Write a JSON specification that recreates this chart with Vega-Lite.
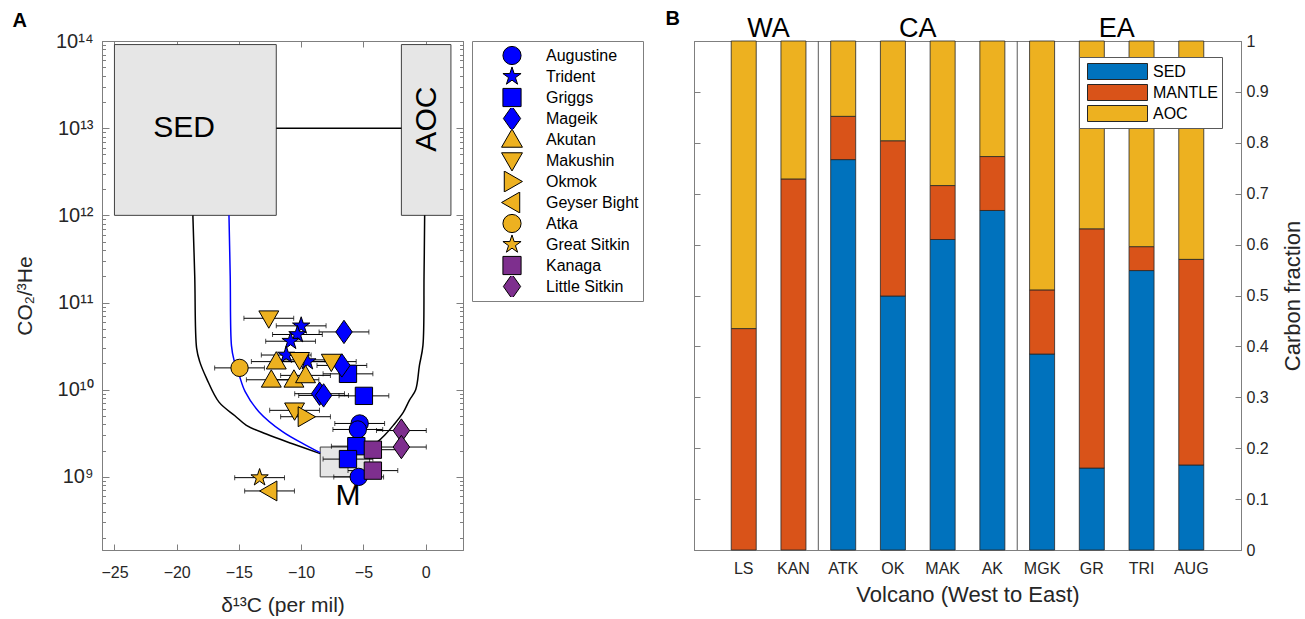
{
  "$schema": "https://vega.github.io/schema/vega-lite/v6.json",
  "background": "white",
  "autosize": {"type": "pad"},
  "padding": {"left": 12, "top": 8, "right": 0, "bottom": 0},
  "bounds": "flush",
  "spacing": 231,
  "resolve": {"scale": {"color": "independent", "shape": "independent"}, "legend": {"color": "independent", "shape": "independent"}},
  "hconcat": [
    {
      "width": 361,
      "height": 509,
      "title": {"text": "A", "anchor": "start", "frame": "bounds", "fontSize": 20, "fontWeight": "bold", "color": "#000000", "dx": -2, "dy": 6, "offset": 6},
      "layer": [
        {
          "data": {"values": [
            {"box": "SED", "x1": -25, "x2": -12, "y1": 1e12, "y2": 9.1e13},
            {"box": "AOC", "x1": -1.95, "x2": 2.03, "y1": 1e12, "y2": 9.1e13},
            {"box": "M", "x1": -8.47, "x2": -4.5, "y1": 1e9, "y2": 2.2e9}
          ]},
          "mark": {"type": "rect", "fill": "#e6e6e6", "stroke": "#404040", "strokeWidth": 1},
          "encoding": {
            "x": {"field": "x1", "type": "quantitative", "scale": {"domain": [-26, 3], "nice": false, "zero": false}, "axis": null},
            "x2": {"field": "x2"},
            "y": {"field": "y1", "type": "quantitative", "scale": {"type": "log", "domain": [1.45e8, 1e14], "nice": false}, "axis": {"orient": "right", "values": [2e8,3e8,4e8,5e8,6e8,7e8,8e8,9e8,2e9,3e9,4e9,5e9,6e9,7e9,8e9,9e9,2e10,3e10,4e10,5e10,6e10,7e10,8e10,9e10,2e11,3e11,4e11,5e11,6e11,7e11,8e11,9e11,2e12,3e12,4e12,5e12,6e12,7e12,8e12,9e12,2e13,3e13,4e13,5e13,6e13,7e13,8e13,9e13], "tickSize": -3.5, "labels": false, "domain": false, "title": null}},
            "y2": {"field": "y2"}
          }
        },
        {
          "data": {"values": [
            {"curve": "left", "d13C": -18.7, "co2he": 1e12},
            {"curve": "left", "d13C": -18.55, "co2he": 2e11},
            {"curve": "left", "d13C": -18.4, "co2he": 3e10},
            {"curve": "left", "d13C": -18.15, "co2he": 2.1e10},
            {"curve": "left", "d13C": -17.6, "co2he": 1.35e10},
            {"curve": "left", "d13C": -16.6, "co2he": 7.2e9},
            {"curve": "left", "d13C": -15.3, "co2he": 5e9},
            {"curve": "left", "d13C": -14.4, "co2he": 3.9e9},
            {"curve": "left", "d13C": -12.8, "co2he": 3.1e9},
            {"curve": "left", "d13C": -10.7, "co2he": 2.4e9},
            {"curve": "left", "d13C": -8.47, "co2he": 1.85e9},
            {"curve": "right", "d13C": -0.08, "co2he": 1e12},
            {"curve": "right", "d13C": -0.13, "co2he": 2e11},
            {"curve": "right", "d13C": -0.22, "co2he": 3.2e10},
            {"curve": "right", "d13C": -0.5, "co2he": 1.9e10},
            {"curve": "right", "d13C": -0.8, "co2he": 1.0e10},
            {"curve": "right", "d13C": -1.3, "co2he": 7.6e9},
            {"curve": "right", "d13C": -1.8, "co2he": 5.5e9},
            {"curve": "right", "d13C": -2.6, "co2he": 3.9e9},
            {"curve": "right", "d13C": -3.3, "co2he": 3.0e9},
            {"curve": "right", "d13C": -3.9, "co2he": 2.5e9},
            {"curve": "right", "d13C": -4.5, "co2he": 2.2e9},
            {"curve": "link", "d13C": -12, "co2he": 1e13},
            {"curve": "link", "d13C": -1.95, "co2he": 1e13}
          ]},
          "mark": {"type": "line", "color": "#000000", "strokeWidth": 1.5, "interpolate": "catmull-rom"},
          "encoding": {
            "x": {"field": "d13C", "type": "quantitative", "scale": {"domain": [-26, 3], "nice": false, "zero": false}, "axis": {"orient": "top", "values": [-25, -20, -15, -10, -5, 0], "tickSize": -6, "labels": false, "title": null}},
            "y": {"field": "co2he", "type": "quantitative", "scale": {"type": "log", "domain": [1.45e8, 1e14], "nice": false}, "axis": {"orient": "right", "values": [1e9, 1e10, 1e11, 1e12, 1e13, 1e14], "tickSize": -7, "labels": false, "title": null}},
            "detail": {"field": "curve"}
          }
        },
        {
          "data": {"values": [
            {"d13C": -15.8, "co2he": 1e12},
            {"d13C": -15.7, "co2he": 2e11},
            {"d13C": -15.6, "co2he": 3.2e10},
            {"d13C": -15.4, "co2he": 2.2e10},
            {"d13C": -15.0, "co2he": 1.5e10},
            {"d13C": -14.5, "co2he": 9.5e9},
            {"d13C": -13.4, "co2he": 5.6e9},
            {"d13C": -11.5, "co2he": 3.3e9},
            {"d13C": -9.6, "co2he": 2.3e9},
            {"d13C": -8.47, "co2he": 1.9e9}
          ]},
          "mark": {"type": "line", "color": "#0000ff", "strokeWidth": 1.5, "interpolate": "catmull-rom"},
          "encoding": {
            "x": {"field": "d13C", "type": "quantitative", "scale": {"domain": [-26, 3], "nice": false, "zero": false}, "axis": null},
            "y": {"field": "co2he", "type": "quantitative", "scale": {"type": "log", "domain": [1.45e8, 1e14], "nice": false}, "axis": {"orient": "left", "values": [2e8,3e8,4e8,5e8,6e8,7e8,8e8,9e8,2e9,3e9,4e9,5e9,6e9,7e9,8e9,9e9,2e10,3e10,4e10,5e10,6e10,7e10,8e10,9e10,2e11,3e11,4e11,5e11,6e11,7e11,8e11,9e11,2e12,3e12,4e12,5e12,6e12,7e12,8e12,9e12,2e13,3e13,4e13,5e13,6e13,7e13,8e13,9e13], "tickSize": -3.5, "labels": false, "domain": false, "title": null}}
          }
        },
        {
          "data": {"name": "pts"},
          "mark": {"type": "errorbar", "color": "#000000", "ticks": {"size": 5, "color": "#000000"}, "rule": {"strokeWidth": 1}},
          "encoding": {
            "x": {"field": "d13C", "type": "quantitative", "scale": {"domain": [-26, 3], "nice": false, "zero": false}, "axis": null},
            "xError": {"field": "xerr"},
            "y": {"field": "co2he", "type": "quantitative", "scale": {"type": "log", "domain": [1.45e8, 1e14], "nice": false}, "axis": null}
          }
        },
        {
          "data": {"name": "pts"},
          "mark": {"type": "point", "filled": true, "size": 300, "stroke": "#000000", "strokeWidth": 1, "opacity": 1},
          "encoding": {
            "x": {"field": "d13C", "type": "quantitative", "scale": {"domain": [-26, 3], "nice": false, "zero": false}, "axis": {"orient": "bottom", "values": [-25, -20, -15, -10, -5, 0], "tickSize": -6, "labelPadding": 20, "title": "δ¹³C (per mil)", "titlePadding": 14}},
            "y": {"field": "co2he", "type": "quantitative", "scale": {"type": "log", "domain": [1.45e8, 1e14], "nice": false}, "axis": {"orient": "left", "values": [1e9, 1e10, 1e11, 1e12, 1e13, 1e14], "tickSize": -7, "labelPadding": 16, "labelFontSize": 20, "labelExpr": "datum.value == 1e9 ? '10⁹' : datum.value == 1e10 ? '10¹⁰' : datum.value == 1e11 ? '10¹¹' : datum.value == 1e12 ? '10¹²' : datum.value == 1e13 ? '10¹³' : datum.value == 1e14 ? '10¹⁴' : ''", "title": "CO₂/³He", "titlePadding": 20}},
            "color": {"field": "volcano", "type": "nominal",
              "scale": {"domain": ["Augustine","Trident","Griggs","Mageik","Akutan","Makushin","Okmok","Geyser Bight","Atka","Great Sitkin","Kanaga","Little Sitkin"],
                        "range": ["#0000ff","#0000ff","#0000ff","#0000ff","#edb120","#edb120","#edb120","#edb120","#edb120","#edb120","#7e2f8e","#7e2f8e"]},
              "legend": {"orient": "none", "legendX": 370, "legendY": 0, "title": null, "padding": 4, "symbolOffset": 26, "labelOffset": 24, "symbolSize": 330, "rowPadding": 0, "clipHeight": 21, "strokeColor": "#7f7f7f", "fillColor": "#ffffff", "symbolStrokeColor": "#000000", "symbolStrokeWidth": 1, "symbolOpacity": 1, "labelFontSize": 16, "labelColor": "#000000",
                         "encode": {"symbols": {"update": {"stroke": {"value": "#000000"}, "strokeWidth": {"value": 1}}}}}},
            "shape": {"field": "volcano", "type": "nominal",
              "scale": {"domain": ["Augustine","Trident","Griggs","Mageik","Akutan","Makushin","Okmok","Geyser Bight","Atka","Great Sitkin","Kanaga","Little Sitkin"],
                        "range": ["circle",
                                  "M0,-1.05L0.236,-0.324L0.999,-0.324L0.381,0.124L0.617,0.849L0,0.401L-0.617,0.849L-0.381,0.124L-0.999,-0.324L-0.236,-0.324Z",
                                  "square",
                                  "M0,-1.35L0.95,0L0,1.35L-0.95,0Z",
                                  "M0,-1.15L1.15,0.85L-1.15,0.85Z",
                                  "M0,1.15L1.15,-0.85L-1.15,-0.85Z",
                                  "M1.15,0L-0.85,-1.15L-0.85,1.15Z",
                                  "M-1.15,0L0.85,-1.15L0.85,1.15Z",
                                  "circle",
                                  "M0,-1.05L0.236,-0.324L0.999,-0.324L0.381,0.124L0.617,0.849L0,0.401L-0.617,0.849L-0.381,0.124L-0.999,-0.324L-0.236,-0.324Z",
                                  "square",
                                  "M0,-1.35L0.95,0L0,1.35L-0.95,0Z"]},
              "legend": {"orient": "none", "legendX": 370, "legendY": 0, "title": null, "padding": 4, "symbolOffset": 26, "labelOffset": 24, "symbolSize": 330, "rowPadding": 0, "clipHeight": 21, "strokeColor": "#7f7f7f", "fillColor": "#ffffff", "symbolStrokeColor": "#000000", "symbolStrokeWidth": 1, "symbolOpacity": 1, "labelFontSize": 16, "labelColor": "#000000",
                         "encode": {"symbols": {"update": {"stroke": {"value": "#000000"}, "strokeWidth": {"value": 1}}}}}}
          }
        },
        {
          "data": {"values": [
            {"label": "SED", "d13C": -19.4, "co2he": 1e13},
            {"label": "M", "d13C": -6.24, "co2he": 6.1e8}
          ]},
          "mark": {"type": "text", "fontSize": 30, "color": "#000000", "baseline": "middle", "align": "center"},
          "encoding": {
            "x": {"field": "d13C", "type": "quantitative", "scale": {"domain": [-26, 3], "nice": false, "zero": false}, "axis": null},
            "y": {"field": "co2he", "type": "quantitative", "scale": {"type": "log", "domain": [1.45e8, 1e14], "nice": false}, "axis": null},
            "text": {"field": "label"}
          }
        },
        {
          "data": {"values": [
            {"label": "AOC", "d13C": 0.1, "co2he": 1.27e13}
          ]},
          "mark": {"type": "text", "fontSize": 30, "color": "#000000", "baseline": "middle", "align": "center", "angle": 270},
          "encoding": {
            "x": {"field": "d13C", "type": "quantitative", "scale": {"domain": [-26, 3], "nice": false, "zero": false}, "axis": null},
            "y": {"field": "co2he", "type": "quantitative", "scale": {"type": "log", "domain": [1.45e8, 1e14], "nice": false}, "axis": null},
            "text": {"field": "label"}
          }
        }
      ],
      "resolve": {"axis": {"x": "independent", "y": "independent"}}
    },
    {
      "width": 547,
      "height": 509,
      "title": {"text": "B", "anchor": "start", "frame": "bounds", "fontSize": 20, "fontWeight": "bold", "color": "#000000", "dx": -28, "dy": 20, "offset": 6},
      "layer": [
        {
          "data": {"values": [
            {"volcano": "LS", "source": "MANTLE", "fraction": 0.435},
            {"volcano": "LS", "source": "AOC", "fraction": 0.565},
            {"volcano": "KAN", "source": "MANTLE", "fraction": 0.729},
            {"volcano": "KAN", "source": "AOC", "fraction": 0.271},
            {"volcano": "ATK", "source": "SED", "fraction": 0.767},
            {"volcano": "ATK", "source": "MANTLE", "fraction": 0.085},
            {"volcano": "ATK", "source": "AOC", "fraction": 0.148},
            {"volcano": "OK", "source": "SED", "fraction": 0.499},
            {"volcano": "OK", "source": "MANTLE", "fraction": 0.305},
            {"volcano": "OK", "source": "AOC", "fraction": 0.196},
            {"volcano": "MAK", "source": "SED", "fraction": 0.610},
            {"volcano": "MAK", "source": "MANTLE", "fraction": 0.106},
            {"volcano": "MAK", "source": "AOC", "fraction": 0.284},
            {"volcano": "AK", "source": "SED", "fraction": 0.667},
            {"volcano": "AK", "source": "MANTLE", "fraction": 0.106},
            {"volcano": "AK", "source": "AOC", "fraction": 0.227},
            {"volcano": "MGK", "source": "SED", "fraction": 0.385},
            {"volcano": "MGK", "source": "MANTLE", "fraction": 0.126},
            {"volcano": "MGK", "source": "AOC", "fraction": 0.489},
            {"volcano": "GR", "source": "SED", "fraction": 0.161},
            {"volcano": "GR", "source": "MANTLE", "fraction": 0.470},
            {"volcano": "GR", "source": "AOC", "fraction": 0.369},
            {"volcano": "TRI", "source": "SED", "fraction": 0.549},
            {"volcano": "TRI", "source": "MANTLE", "fraction": 0.047},
            {"volcano": "TRI", "source": "AOC", "fraction": 0.404},
            {"volcano": "AUG", "source": "SED", "fraction": 0.167},
            {"volcano": "AUG", "source": "MANTLE", "fraction": 0.404},
            {"volcano": "AUG", "source": "AOC", "fraction": 0.429}
          ]},
          "mark": {"type": "bar", "stroke": "#262626", "strokeWidth": 0.8},
          "encoding": {
            "x": {"field": "volcano", "type": "nominal", "scale": {"domain": ["LS","KAN","ATK","OK","MAK","AK","MGK","GR","TRI","AUG"], "paddingInner": 0.497, "paddingOuter": 0.7485},
                  "axis": {"orient": "bottom", "tickSize": -5, "labelPadding": 15, "labelAngle": 0, "title": "Volcano (West to East)", "titleFontSize": 22, "titlePadding": 8}},
            "y": {"field": "fraction", "type": "quantitative", "stack": "zero", "scale": {"domain": [0, 1], "nice": false},
                  "axis": {"orient": "right", "values": [0, 0.1, 0.2, 0.3, 0.4, 0.5, 0.6, 0.7, 0.8, 0.9, 1], "format": "~g", "tickSize": -6, "labelPadding": 11, "title": "Carbon fraction", "titleFontSize": 22, "titleAngle": 270, "titleBaseline": "top", "titlePadding": 14}},
            "color": {"field": "source", "type": "nominal",
                      "scale": {"domain": ["SED", "MANTLE", "AOC"], "range": ["#0072bd", "#d95319", "#edb120"]},
                      "legend": {"orient": "none", "legendX": 385, "legendY": 16, "title": null, "padding": 4, "symbolType": "M-3.75,-1H3.75V1H-3.75Z", "symbolSize": 256, "symbolOffset": 26, "labelOffset": 27, "rowPadding": 0, "clipHeight": 21, "strokeColor": "#595959", "fillColor": "#ffffff", "symbolStrokeColor": "#262626", "symbolStrokeWidth": 1, "symbolOpacity": 1, "labelFontSize": 16, "labelColor": "#000000"}},
            "order": {"field": "source", "sort": "descending"}
          }
        },
        {
          "data": {"values": [{"after": "KAN"}, {"after": "AK"}]},
          "mark": {"type": "rule", "color": "#595959", "strokeWidth": 1, "xOffset": 12.35},
          "encoding": {
            "x": {"field": "after", "type": "nominal", "bandPosition": 1, "scale": {"domain": ["LS","KAN","ATK","OK","MAK","AK","MGK","GR","TRI","AUG"], "paddingInner": 0.497, "paddingOuter": 0.7485}, "axis": null}
          }
        },
        {
          "data": {"values": [
            {"group": "WA", "after": "LS"},
            {"group": "CA", "after": "OK"},
            {"group": "EA", "after": "GR"}
          ]},
          "mark": {"type": "text", "fontSize": 27, "color": "#000000", "baseline": "alphabetic", "align": "center", "dy": -4, "xOffset": 12.35},
          "encoding": {
            "x": {"field": "after", "type": "nominal", "bandPosition": 1, "scale": {"domain": ["LS","KAN","ATK","OK","MAK","AK","MGK","GR","TRI","AUG"], "paddingInner": 0.497, "paddingOuter": 0.7485},
                  "axis": {"orient": "top", "tickSize": -5, "labels": false, "title": null}},
            "y": {"datum": 1, "type": "quantitative", "scale": {"domain": [0, 1], "nice": false},
                  "axis": {"orient": "left", "values": [0, 0.1, 0.2, 0.3, 0.4, 0.5, 0.6, 0.7, 0.8, 0.9, 1], "tickSize": -6, "labels": false, "title": null}},
            "text": {"field": "group"}
          }
        }
      ],
      "resolve": {"axis": {"x": "independent", "y": "independent"}}
    }
  ],
  "datasets": {
    "pts": [
      {"volcano": "Augustine", "d13C": -5.3, "co2he": 4.1e9, "xerr": 2},
      {"volcano": "Augustine", "d13C": -5.45, "co2he": 3.5e9, "xerr": 2},
      {"volcano": "Augustine", "d13C": -5.38, "co2he": 1.0e9, "xerr": 2},
      {"volcano": "Trident", "d13C": -10.0, "co2he": 5.4e10, "xerr": 2},
      {"volcano": "Trident", "d13C": -10.3, "co2he": 4.3e10, "xerr": 2},
      {"volcano": "Trident", "d13C": -10.85, "co2he": 3.6e10, "xerr": 2},
      {"volcano": "Trident", "d13C": -11.2, "co2he": 2.5e10, "xerr": 2},
      {"volcano": "Trident", "d13C": -9.5, "co2he": 2.1e10, "xerr": 2},
      {"volcano": "Griggs", "d13C": -6.24, "co2he": 1.52e10, "xerr": 2},
      {"volcano": "Griggs", "d13C": -4.96, "co2he": 8.5e9, "xerr": 2},
      {"volcano": "Griggs", "d13C": -5.57, "co2he": 2.25e9, "xerr": 2},
      {"volcano": "Griggs", "d13C": -6.24, "co2he": 1.6e9, "xerr": 2},
      {"volcano": "Mageik", "d13C": -6.56, "co2he": 4.6e10, "xerr": 2},
      {"volcano": "Mageik", "d13C": -6.73, "co2he": 1.9e10, "xerr": 2},
      {"volcano": "Mageik", "d13C": -8.52, "co2he": 9.0e9, "xerr": 2},
      {"volcano": "Mageik", "d13C": -8.2, "co2he": 8.6e9, "xerr": 2},
      {"volcano": "Akutan", "d13C": -12.0, "co2he": 2.1e10, "xerr": 2},
      {"volcano": "Akutan", "d13C": -12.4, "co2he": 1.3e10, "xerr": 2},
      {"volcano": "Akutan", "d13C": -10.58, "co2he": 1.3e10, "xerr": 2},
      {"volcano": "Akutan", "d13C": -9.65, "co2he": 1.46e10, "xerr": 2},
      {"volcano": "Makushin", "d13C": -12.6, "co2he": 6.6e10, "xerr": 2},
      {"volcano": "Makushin", "d13C": -10.13, "co2he": 2.2e10, "xerr": 2},
      {"volcano": "Makushin", "d13C": -7.58, "co2he": 2.1e10, "xerr": 2},
      {"volcano": "Makushin", "d13C": -10.53, "co2he": 5.8e9, "xerr": 2},
      {"volcano": "Okmok", "d13C": -9.65, "co2he": 4.9e9, "xerr": 2},
      {"volcano": "Geyser Bight", "d13C": -12.54, "co2he": 6.9e8, "xerr": 2},
      {"volcano": "Atka", "d13C": -14.95, "co2he": 1.78e10, "xerr": 2},
      {"volcano": "Great Sitkin", "d13C": -13.34, "co2he": 9.8e8, "xerr": 2},
      {"volcano": "Kanaga", "d13C": -4.24, "co2he": 2.05e9, "xerr": 2},
      {"volcano": "Kanaga", "d13C": -4.24, "co2he": 1.18e9, "xerr": 2},
      {"volcano": "Little Sitkin", "d13C": -1.95, "co2he": 3.4e9, "xerr": 2},
      {"volcano": "Little Sitkin", "d13C": -1.95, "co2he": 2.2e9, "xerr": 2}
    ]
  },
  "config": {
    "font": "Liberation Sans",
    "view": {"stroke": "#7f7f7f", "strokeWidth": 1},
    "axis": {"domainColor": "#7f7f7f", "tickColor": "#7f7f7f", "labelColor": "#262626", "titleColor": "#262626", "labelFont": "Liberation Sans", "titleFont": "Liberation Sans", "labelFontSize": 16, "titleFontSize": 21, "titleFontWeight": "normal", "grid": false},
    "legend": {"labelFont": "Liberation Sans", "labelFontSize": 16, "labelColor": "#000000"},
    "title": {"font": "Liberation Sans"}
  }
}
